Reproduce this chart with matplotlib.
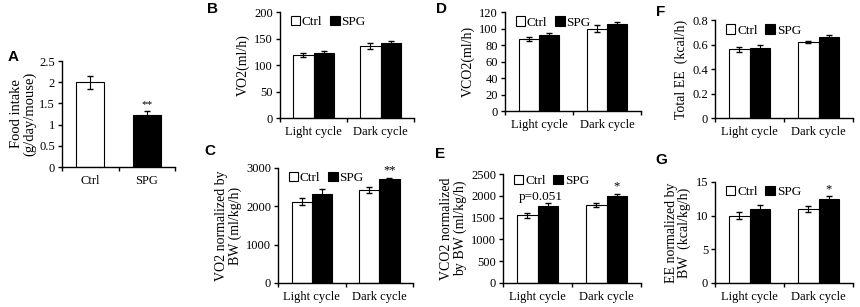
import matplotlib
matplotlib.use('Agg')
import matplotlib.pyplot as plt
import numpy as np

plt.rcParams['font.family'] = ['Liberation Serif', 'DejaVu Serif']

groups = ['Light cycle', 'Dark cycle']

# panel A
food_labels = ['Ctrl', 'SPG']
food_mean = [2.0, 1.23]
food_err = [0.15, 0.1]

# panels B-G: ctrl / spg means and errors per cycle
vo2_ctrl, vo2_spg = [119, 136], [122, 142]
vo2_ctrl_e, vo2_spg_e = [4, 5], [4, 4]

vo2bw_ctrl, vo2bw_spg = [2120, 2430], [2320, 2700]
vo2bw_ctrl_e, vo2bw_spg_e = [90, 70], [120, 40]

vco2_ctrl, vco2_spg = [87, 100], [92.5, 105]
vco2_ctrl_e, vco2_spg_e = [2.5, 4], [2, 3]

vco2bw_ctrl, vco2bw_spg = [1550, 1790], [1760, 2000]
vco2bw_ctrl_e, vco2bw_spg_e = [50, 50], [70, 50]

ee_ctrl, ee_spg = [0.56, 0.62], [0.575, 0.66]
ee_ctrl_e, ee_spg_e = [0.02, 0.005], [0.02, 0.015]

eebw_ctrl, eebw_spg = [10.0, 11.0], [11.0, 12.5]
eebw_ctrl_e, eebw_spg_e = [0.5, 0.4], [0.6, 0.4]

fig = plt.figure(figsize=(8.6, 3.07), dpi=100)

def style(ax, ymax, ystep):
    ax.spines['top'].set_visible(False)
    ax.spines['right'].set_visible(False)
    ax.spines['left'].set_linewidth(1.0)
    ax.spines['bottom'].set_linewidth(1.0)
    ax.set_xlim(0, 2)
    ax.set_ylim(0, ymax)
    ax.set_yticks(np.arange(0, ymax + ystep / 2, ystep))
    ax.set_xticks([0.5, 1.5])
    ax.set_xticks([0, 1, 2], minor=True)
    ax.tick_params(axis='x', which='major', length=0, labelsize=9, pad=6)
    ax.tick_params(axis='x', which='minor', length=3, direction='out', width=1)
    ax.tick_params(axis='y', length=3, width=1, labelsize=9, pad=2)

def grouped(rect, ctrl, spg, ce, se, ymax, ystep, ylabel, fmt=None, leg_y=1.01):
    ax = fig.add_axes(rect)
    x = np.array([0.5, 1.5])
    ax.bar(x - 0.15, ctrl, 0.3, color='white', edgecolor='black', lw=0.8, label='Ctrl', zorder=2)
    ax.bar(x + 0.15, spg, 0.3, color='black', edgecolor='black', lw=0.8, label='SPG', zorder=2)
    ax.errorbar(x - 0.15, ctrl, yerr=ce, fmt='none', ecolor='black', elinewidth=0.8, capsize=2, zorder=3)
    ax.errorbar(x + 0.15, spg, yerr=se, fmt='none', ecolor='black', elinewidth=0.8, capsize=2, zorder=3)
    style(ax, ymax, ystep)
    ax.set_xticklabels(groups)
    if fmt:
        ax.yaxis.set_major_formatter(plt.FuncFormatter(fmt))
    ax.set_ylabel(ylabel, fontsize=10, labelpad=3, linespacing=1.0)
    ax.legend(loc='upper left', bbox_to_anchor=(0.04, leg_y), ncol=2, frameon=False,
              fontsize=9.5, handlelength=0.7, handleheight=0.7, handletextpad=0.15,
              columnspacing=0.6, borderaxespad=0)
    return ax

def gfmt(v, p):
    return '%g' % v

# A
axA = fig.add_axes([0.0721, 0.456, 0.1314, 0.345])
xa = np.array([0.5, 1.5])
axA.bar(xa, food_mean, 0.5, color=['white', 'black'], edgecolor='black', lw=0.8, zorder=2)
axA.errorbar(xa, food_mean, yerr=food_err, fmt='none', ecolor='black', elinewidth=0.8, capsize=2, zorder=3)
style(axA, 2.5, 0.5)
axA.yaxis.set_major_formatter(plt.FuncFormatter(gfmt))
axA.set_xticklabels(food_labels)
axA.set_ylabel('Food intake\n(g/day/mouse)', fontsize=10.5, labelpad=2, linespacing=1.0)
axA.text(1.5, food_mean[1] + food_err[1] + 0.03, '**', ha='center', va='bottom', fontsize=8)

# B
axB = grouped([0.3256, 0.6156, 0.1558, 0.3453], vo2_ctrl, vo2_spg, vo2_ctrl_e, vo2_spg_e,
              200, 50, 'VO2(ml/h)')
# C
axC = grouped([0.3233, 0.0782, 0.157, 0.3746], vo2bw_ctrl, vo2bw_spg, vo2bw_ctrl_e, vo2bw_spg_e,
              3000, 1000, 'VO2 normalized by\nBW (ml/kg/h)')
axC.text(1.65, vo2bw_spg[1] + vo2bw_spg_e[1] + 30, '**', ha='center', va='bottom', fontsize=9)
# D
axD = grouped([0.5872, 0.6384, 0.1581, 0.3225], vco2_ctrl, vco2_spg, vco2_ctrl_e, vco2_spg_e,
              120, 20, 'VCO2(ml/h)')
# E
axE = grouped([0.5849, 0.0782, 0.1605, 0.355], vco2bw_ctrl, vco2bw_spg, vco2bw_ctrl_e, vco2bw_spg_e,
              2500, 500, 'VCO2 normalized\nby BW (ml/kg/h)', leg_y=1.04)
axE.text(0.55, vco2bw_spg[0] + vco2bw_spg_e[0] + 10, 'p=0.051', ha='center', va='bottom', fontsize=9.5)
axE.text(1.65, vco2bw_spg[1] + vco2bw_spg_e[1] + 20, '*', ha='center', va='bottom', fontsize=9)
# F
axF = grouped([0.8314, 0.6156, 0.1605, 0.3192], ee_ctrl, ee_spg, ee_ctrl_e, ee_spg_e,
              0.8, 0.2, 'Total EE  (kcal/h)', fmt=gfmt)
# G
axG = grouped([0.8314, 0.0782, 0.1605, 0.329], eebw_ctrl, eebw_spg, eebw_ctrl_e, eebw_spg_e,
              15, 5, 'EE normalized by\nBW  (kcal/kg/h)')
axG.text(1.65, eebw_spg[1] + eebw_spg_e[1] + 0.1, '*', ha='center', va='bottom', fontsize=9)

letters = [('A', 13, 57), ('B', 212, 9), ('C', 210, 151), ('D', 442, 9),
           ('E', 440, 154), ('F', 661, 12), ('G', 661, 160)]
for t, px, py in letters:
    fig.text(px / 860, 1 - py / 307, t, ha='center', va='center', fontsize=11,
             fontweight='bold', family='Liberation Sans')

fig.savefig('out.png', dpi=100)
